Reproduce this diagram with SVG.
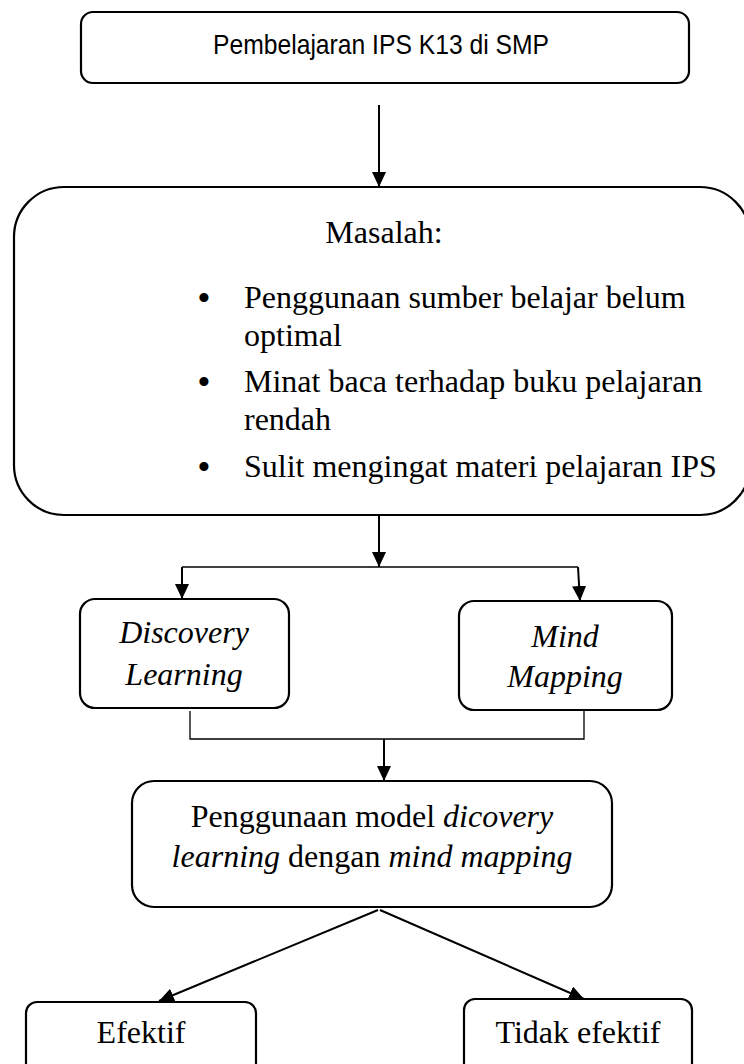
<svg xmlns="http://www.w3.org/2000/svg" width="744" height="1064" viewBox="0 0 744 1064">
<style>
.box{fill:#fff;stroke:#000;stroke-width:2.2}
.ln{fill:none;stroke:#000;stroke-width:2}
.thin{fill:none;stroke:#000;stroke-width:1.3}
.t{font-family:"Liberation Serif","Times New Roman",serif;font-size:32px;fill:#000}
.b{font-family:"Liberation Serif","Times New Roman",serif;font-size:38px;fill:#000;text-anchor:middle}
.c{text-anchor:middle}
.i{font-style:italic}
.s{font-family:"Liberation Sans",Arial,sans-serif;font-size:28px;fill:#000}
</style>
<defs>
<marker id="ah" markerUnits="userSpaceOnUse" markerWidth="16" markerHeight="16" refX="15" refY="7" orient="auto">
<path d="M0,0 L15,7 L0,14 Z" fill="#000"/>
</marker>
</defs>
<g id="connectors">
<line class="ln" x1="379" y1="105" x2="379" y2="187" marker-end="url(#ah)"/>
<line class="ln" x1="379" y1="515" x2="379" y2="567" marker-end="url(#ah)"/>
<line class="thin" x1="182" y1="567" x2="578" y2="567"/>
<line class="ln" x1="182" y1="567" x2="182" y2="599" marker-end="url(#ah)"/>
<line class="ln" x1="578" y1="567" x2="580" y2="601" marker-end="url(#ah)"/>
<polyline class="thin" points="190,711 190,739 584,739 584,711"/>
<line class="ln" x1="384" y1="739" x2="384" y2="781" marker-end="url(#ah)"/>
<line class="ln" x1="378" y1="910" x2="159" y2="1001" marker-end="url(#ah)"/>
<line class="ln" x1="380" y1="910" x2="584" y2="999" marker-end="url(#ah)"/>
</g>
<g id="n-top">
<rect class="box" x="81" y="12" width="608" height="71" rx="12"/>
<text class="s c" x="381" y="54" textLength="336" lengthAdjust="spacingAndGlyphs">Pembelajaran IPS K13 di SMP</text>
</g>
<g id="n-masalah">
<path class="box" d="M64,187 H700 A50,50 0 0 1 750,237 V465 A50,50 0 0 1 700,515 H64 A50,50 0 0 1 14,465 V237 A50,50 0 0 1 64,187 Z"/>
<text class="t c" x="384" y="243">Masalah:</text>
<text class="b" x="204" y="311">•</text>
<text class="t" x="244" y="308">Penggunaan sumber belajar belum</text>
<text class="t" x="244" y="346">optimal</text>
<text class="b" x="204" y="395">•</text>
<text class="t" x="244" y="392">Minat baca terhadap buku pelajaran</text>
<text class="t" x="244" y="430">rendah</text>
<text class="b" x="204" y="480">•</text>
<text class="t" x="244" y="477">Sulit mengingat materi pelajaran IPS</text>
</g>
<g id="n-discovery">
<rect class="box" x="80" y="599" width="209" height="109" rx="15"/>
<text class="t c i" x="184" y="643">Discovery</text>
<text class="t c i" x="184" y="685">Learning</text>
</g>
<g id="n-mind">
<rect class="box" x="459" y="601" width="213" height="109" rx="15"/>
<text class="t c i" x="565" y="647">Mind</text>
<text class="t c i" x="565" y="687">Mapping</text>
</g>
<g id="n-model">
<rect class="box" x="132" y="781" width="480" height="126" rx="22"/>
<text class="t c" x="372" y="827">Penggunaan model <tspan class="i">dicovery</tspan></text>
<text class="t c" x="372" y="867"><tspan class="i">learning</tspan> dengan <tspan class="i">mind mapping</tspan></text>
</g>
<g id="n-efektif">
<rect class="box" x="26" y="1002" width="230" height="90" rx="11"/>
<text class="t c" x="141" y="1043">Efektif</text>
</g>
<g id="n-tidak">
<rect class="box" x="464" y="999" width="228" height="90" rx="11"/>
<text class="t c" x="578" y="1043">Tidak efektif</text>
</g>
</svg>
